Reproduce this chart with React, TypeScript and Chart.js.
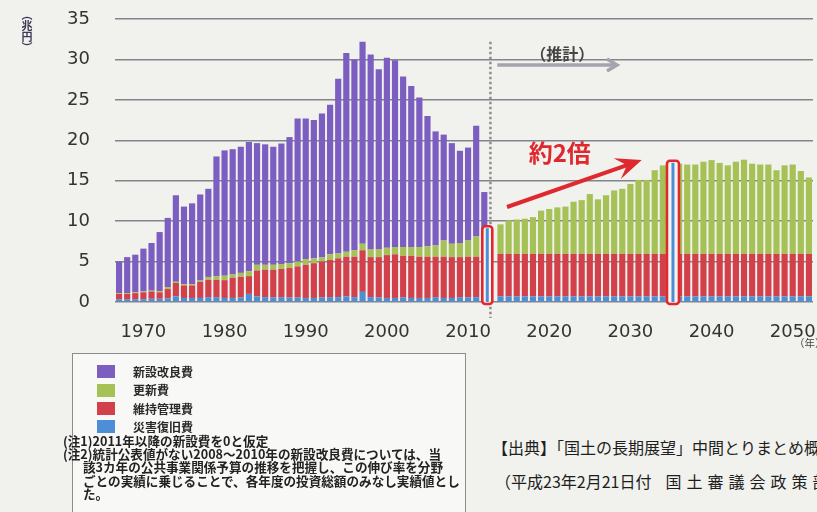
import React, { useEffect, useRef } from 'react';
import { Chart, registerables } from 'chart.js';

Chart.register(...registerables);

// ---- categories (fiscal years as labelled on the axis) ----
const years = [
  1967, 1968, 1969, 1970, 1971, 1972, 1973, 1974, 1975, 1976,
  1977, 1978, 1979, 1980, 1981, 1982, 1983, 1984, 1985, 1986,
  1987, 1988, 1989, 1990, 1991, 1992, 1993, 1994, 1995, 1996,
  1997, 1998, 1999, 2000, 2001, 2002, 2003, 2004, 2005, 2006,
  2007, 2008, 2009, 2010, 2011, 2012, 2013, 2014, 2015, 2016,
  2017, 2018, 2019, 2020, 2021, 2022, 2023, 2024, 2025, 2026,
  2027, 2028, 2029, 2030, 2031, 2032, 2033, 2034, 2035, 2036,
  2037, 2038, 2039, 2040, 2041, 2042, 2043, 2044, 2045, 2046,
  2047, 2048, 2049, 2050, 2051, 2052,
];
const xTickLabels = ['1970', '1980', '1990', '2000', '2010', '2020', '2030', '2040', '2050'];

// ---- series (兆円) ----
const disaster = [
  0.35, 0.35, 0.35, 0.35, 0.4, 0.4, 0.45, 0.7, 0.5, 0.5,
  0.5, 0.6, 0.6, 0.5, 0.5, 0.55, 1.0, 0.7, 0.6, 0.55,
  0.6, 0.55, 0.55, 0.5, 0.5, 0.55, 0.6, 0.6, 0.7, 0.6,
  1.25, 0.6, 0.55, 0.5, 0.5, 0.55, 0.5, 0.5, 0.5, 0.6,
  0.5, 0.5, 0.6, 0.55, 0.6, 0.6, null, 0.7, 0.7, 0.7,
  0.7, 0.7, 0.7, 0.7, 0.7, 0.7, 0.7, 0.7, 0.7, 0.7,
  0.7, 0.7, 0.7, 0.7, 0.7, 0.7, 0.7, 0.7, 0.7, 0.7,
  0.7, 0.7, 0.7, 0.7, 0.7, 0.7, 0.7, 0.7, 0.7, 0.7,
  0.7, 0.7, 0.7, 0.7, 0.7, 0.7,
];
const maintenance = [
  0.65, 0.65, 0.75, 0.85, 0.9, 0.8, 1.15, 1.65, 1.55, 1.55,
  2.0, 2.15, 2.15, 2.2, 2.5, 2.55, 2.2, 3.2, 3.4, 3.45,
  3.5, 3.65, 3.85, 4.1, 4.3, 4.45, 4.6, 4.8, 4.9, 5.0,
  5.15, 4.95, 5.0, 5.3, 5.4, 5.15, 5.2, 5.1, 5.1, 5.0,
  5.1, 5.05, 4.95, 5.05, 5.0, 5.3, null, 5.25, 5.25, 5.25,
  5.25, 5.25, 5.25, 5.25, 5.25, 5.25, 5.25, 5.25, 5.25, 5.25,
  5.25, 5.25, 5.25, 5.25, 5.25, 5.25, 5.25, 5.25, 5.25, 5.25,
  5.25, 5.25, 5.25, 5.25, 5.25, 5.25, 5.25, 5.25, 5.25, 5.25,
  5.25, 5.25, 5.25, 5.25, 5.25, 5.25,
];
const renewal = [
  0.1, 0.1, 0.1, 0.1, 0.1, 0.15, 0.25, 0.15, 0.15, 0.15,
  0.15, 0.35, 0.45, 0.55, 0.4, 0.5, 0.6, 0.7, 0.6, 0.6,
  0.6, 0.6, 0.6, 0.7, 0.6, 0.5, 0.7, 0.6, 0.6, 0.8,
  0.8, 0.95, 0.95, 0.9, 0.9, 1.1, 1.1, 1.2, 1.3, 1.4,
  2.0, 1.65, 1.75, 2.0, 2.5, 3.1, null, 3.65, 4.15, 4.25,
  4.35, 4.55, 5.35, 5.55, 5.75, 5.85, 6.45, 6.65, 7.4, 6.75,
  7.25, 7.85, 8.05, 8.65, 9.15, 9.15, 10.35, 10.95, 11.15, 11.15,
  11.05, 11.05, 11.4, 11.6, 11.25, 10.95, 11.4, 11.65, 11.15, 11.05,
  11.05, 10.35, 10.95, 11.05, 10.25, 9.45,
];
const newBuild = [
  3.9, 4.45, 4.65, 5.3, 5.9, 7.3, 8.55, 10.7, 9.6, 10.0,
  10.65, 10.9, 14.8, 15.5, 15.5, 15.6, 16.0, 15.05, 14.9, 14.6,
  14.9, 15.6, 17.7, 17.4, 17.1, 17.8, 18.5, 21.6, 24.6, 23.6,
  25.0, 24.1, 22.3, 23.5, 23.1, 21.1, 19.9, 18.5, 16.1, 14.1,
  13.1, 12.45, 11.4, 11.5, 13.7, 4.6, null, 0, 0, 0,
  0, 0, 0, 0, 0, 0, 0, 0, 0, 0,
  0, 0, 0, 0, 0, 0, 0, 0, 0, 0,
  0, 0, 0, 0, 0, 0, 0, 0, 0, 0,
  0, 0, 0, 0, 0, 0,
];

const legendItems = ['新設改良費', '更新費', '維持管理費', '災害復旧費'];
const highlightIdx = [45, 68];

const PURPLE = '#7b5ec0';
const GREEN = '#a6c257';
const RED = '#d2404c';
const BLUE = '#4d8fd6';
const ANNOT_RED = '#e0282f';
const BG = '#f1f1ed';

const JP = '"Noto Sans CJK JP", "Noto Sans", sans-serif';

const annotatePlugin = {
  id: 'annotate',
  afterDraw(chart: any) {
    const { ctx } = chart;
    const x = chart.scales.x;
    const y = chart.scales.y;
    const X = (v: number) => x.getPixelForValue(v);
    const Y = (v: number) => y.getPixelForValue(v);
    ctx.save();

    // dotted divider between actual and projection
    const dx = X(46) - 2;
    ctx.strokeStyle = '#8e8e8e';
    ctx.lineWidth = 2.5;
    ctx.setLineDash([2.5, 2.5]);
    ctx.beginPath();
    ctx.moveTo(dx, Y(32.2));
    ctx.lineTo(dx, Y(0) + 16);
    ctx.stroke();
    ctx.setLineDash([]);

    // highlight boxes
    const shifts = [3, 2];
    const widths = [10, 12];
    highlightIdx.forEach((i, k) => {
      const lower = (disaster[i] as number) + (maintenance[i] as number) + (renewal[i] as number);
      const cx = X(i) + shifts[k];
      const w = widths[k];
      const top = Y(lower) - 3;
      const bottom = Y(0) + 2;
      ctx.fillStyle = '#f4f4f2';
      ctx.fillRect(cx - w / 2, top, w, bottom - top);
      ctx.strokeStyle = BLUE;
      ctx.lineWidth = 3;
      ctx.beginPath();
      ctx.moveTo(cx, top + 2);
      ctx.lineTo(cx, bottom - 2);
      ctx.stroke();
      ctx.strokeStyle = ANNOT_RED;
      ctx.lineWidth = 2.6;
      ctx.beginPath();
      ctx.roundRect(cx - w / 2, top, w, bottom - top, 3);
      ctx.stroke();
    });

    // red arrow
    const sx = X(47.8), sy = Y(11.75), tx = X(64.4), ty = Y(17.55);
    const ang = Math.atan2(ty - sy, tx - sx);
    const ux = Math.cos(ang), uy = Math.sin(ang);
    const L = 26, W = 11;
    ctx.strokeStyle = ANNOT_RED;
    ctx.fillStyle = ANNOT_RED;
    ctx.lineWidth = 4;
    ctx.beginPath();
    ctx.moveTo(sx, sy);
    ctx.lineTo(tx - ux * 14, ty - uy * 14);
    ctx.stroke();
    ctx.beginPath();
    ctx.moveTo(tx, ty);
    ctx.lineTo(tx - ux * L - uy * W, ty - uy * L + ux * W);
    ctx.lineTo(tx - ux * L * 0.6, ty - uy * L * 0.6);
    ctx.lineTo(tx - ux * L + uy * W, ty - uy * L - ux * W);
    ctx.closePath();
    ctx.fill();

    // gray projection arrow
    const gx0 = X(46.6), gx1 = X(61.35), gy = Y(29.3);
    ctx.strokeStyle = '#a2a5ad';
    ctx.lineWidth = 3.5;
    ctx.beginPath();
    ctx.moveTo(gx0, gy);
    ctx.lineTo(gx1, gy);
    ctx.stroke();
    ctx.beginPath();
    ctx.moveTo(gx1 - 10, gy - 6);
    ctx.lineTo(gx1, gy);
    ctx.lineTo(gx1 - 10, gy + 6);
    ctx.stroke();

    // texts
    ctx.textAlign = 'center';
    ctx.textBaseline = 'middle';
    ctx.fillStyle = '#454545';
    ctx.font = `bold 16px ${JP}`;
    ctx.fillText('（推計）', X(54.6), Y(30.7));
    ctx.fillStyle = ANNOT_RED;
    ctx.font = `bold 24px ${JP}`;
    ctx.fillText('約2倍', X(54.3), Y(18.4));

    ctx.restore();
  },
};

export default function App() {
  const canvasRef = useRef<HTMLCanvasElement | null>(null);

  useEffect(() => {
    if (!canvasRef.current) return;
    const chart = new Chart(canvasRef.current, {
      type: 'bar',
      data: {
        labels: years.map(String),
        datasets: [
          { label: '災害復旧費', data: disaster as any, backgroundColor: BLUE, stack: 's' },
          { label: '維持管理費', data: maintenance as any, backgroundColor: RED, stack: 's' },
          { label: '更新費', data: renewal as any, backgroundColor: GREEN, stack: 's' },
          { label: '新設改良費', data: newBuild as any, backgroundColor: PURPLE, stack: 's' },
        ],
      },
      options: {
        animation: false,
        responsive: false,
        devicePixelRatio: 1,
        layout: { padding: { top: 19, right: 4, left: 0, bottom: 0 } },
        plugins: { legend: { display: false }, tooltip: { enabled: false } },
        datasets: { bar: { barPercentage: 0.76, categoryPercentage: 1 } },
        scales: {
          x: {
            stacked: true,
            grid: { display: false, drawTicks: true, tickLength: 20, tickColor: 'rgba(0,0,0,0)' },
            border: { display: false },
            ticks: {
              autoSkip: false,
              maxRotation: 0,
              minRotation: 0,
              padding: 0,
              color: '#333333',
              font: { family: '"DejaVu Sans"', size: 18 },
              callback: (_v: any, i: number) =>
                xTickLabels.includes(String(years[i])) ? String(years[i]) : '',
            },
            afterFit: (s: any) => {
              s.height = 58;
            },
          },
          y: {
            stacked: true,
            min: 0,
            max: 35,
            z: 1,
            grid: {
              color: 'rgba(105,105,115,0.8)',
              lineWidth: 1.5,
              drawTicks: true,
              tickLength: 17,
              tickColor: 'rgba(0,0,0,0)',
            },
            border: { display: false },
            ticks: {
              stepSize: 5,
              padding: 8,
              color: '#333333',
              font: { family: '"DejaVu Sans"', size: 18 },
            },
            afterFit: (s: any) => {
              s.width = 115;
            },
          },
        },
      },
      plugins: [annotatePlugin],
    });
    return () => chart.destroy();
  }, []);

  const legendColors = [PURPLE, GREEN, RED, BLUE];
  const legendCenters = [371.5, 390, 408.5, 426.5];
  const noteLines = [
    { text: '(注1)2011年以降の新設費を0と仮定', left: 63 },
    { text: '(注2)統計公表値がない2008～2010年の新設改良費については、当', left: 63 },
    { text: '該3カ年の公共事業関係予算の推移を把握し、この伸び率を分野', left: 83 },
    { text: 'ごとの実績に乗じることで、各年度の投資総額のみなし実績値とし', left: 83 },
    { text: 'た。', left: 83 },
  ];

  return (
    <div
      style={{
        position: 'fixed',
        left: 0,
        top: 0,
        width: 817,
        height: 512,
        overflow: 'hidden',
        background: BG,
        fontFamily: JP,
      }}
    >
      <canvas
        ref={canvasRef}
        width={817}
        height={360}
        style={{ position: 'absolute', left: 0, top: 0, width: 817, height: 360 }}
      />
      {/* y unit */}
      <div
        style={{
          position: 'absolute',
          left: 20,
          top: 9,
          writingMode: 'vertical-rl',
          fontSize: 11,
          fontWeight: 'bold',
          color: '#3a3a55',
          lineHeight: '13px',
        }}
      >
        （兆円）
      </div>
      {/* x unit */}
      <div
        style={{
          position: 'absolute',
          left: 794,
          top: 335,
          fontSize: 10.5,
          color: '#444',
          whiteSpace: 'nowrap',
        }}
      >
        （年）
      </div>
      {/* legend box */}
      <div
        style={{
          position: 'absolute',
          left: 72,
          top: 353,
          width: 394,
          height: 200,
          boxSizing: 'border-box',
          border: '1.5px solid #8c8c8c',
          background: '#f8f8f6',
        }}
      />
      {legendItems.map((t, i) => (
        <React.Fragment key={t}>
          <div
            style={{
              position: 'absolute',
              left: 97,
              top: legendCenters[i] - 6.5,
              width: 18,
              height: 13,
              background: legendColors[i],
            }}
          />
          <div
            style={{
              position: 'absolute',
              left: 133,
              top: legendCenters[i] - 7,
              height: 14,
              lineHeight: '14px',
              fontSize: 12,
              fontWeight: 'bold',
              color: '#2a2a2a',
              whiteSpace: 'nowrap',
            }}
          >
            {t}
          </div>
        </React.Fragment>
      ))}
      {noteLines.map((n, i) => (
        <div
          key={i}
          style={{
            position: 'absolute',
            left: n.left,
            top: 433.5 + i * 13.4,
            lineHeight: '13.4px',
            fontSize: 12.6,
            fontWeight: 'bold',
            color: '#222',
            whiteSpace: 'nowrap',
          }}
        >
          {n.text}
        </div>
      ))}
      {/* source */}
      <div
        style={{
          position: 'absolute',
          left: 492,
          top: 437,
          lineHeight: '20px',
          fontSize: 16,
          color: '#1e1e1e',
          whiteSpace: 'nowrap',
        }}
      >
        【出典】「国土の長期展望」中間とりまとめ概要
      </div>
      <div
        style={{
          position: 'absolute',
          left: 495,
          top: 471,
          lineHeight: '20px',
          fontSize: 16,
          color: '#1e1e1e',
          whiteSpace: 'nowrap',
        }}
      >
        （平成23年2月21日付
        <span style={{ display: 'inline-block', width: 14 }} />
        <span style={{ letterSpacing: 5 }}>国土審議会政策部会</span>
      </div>
    </div>
  );
}
